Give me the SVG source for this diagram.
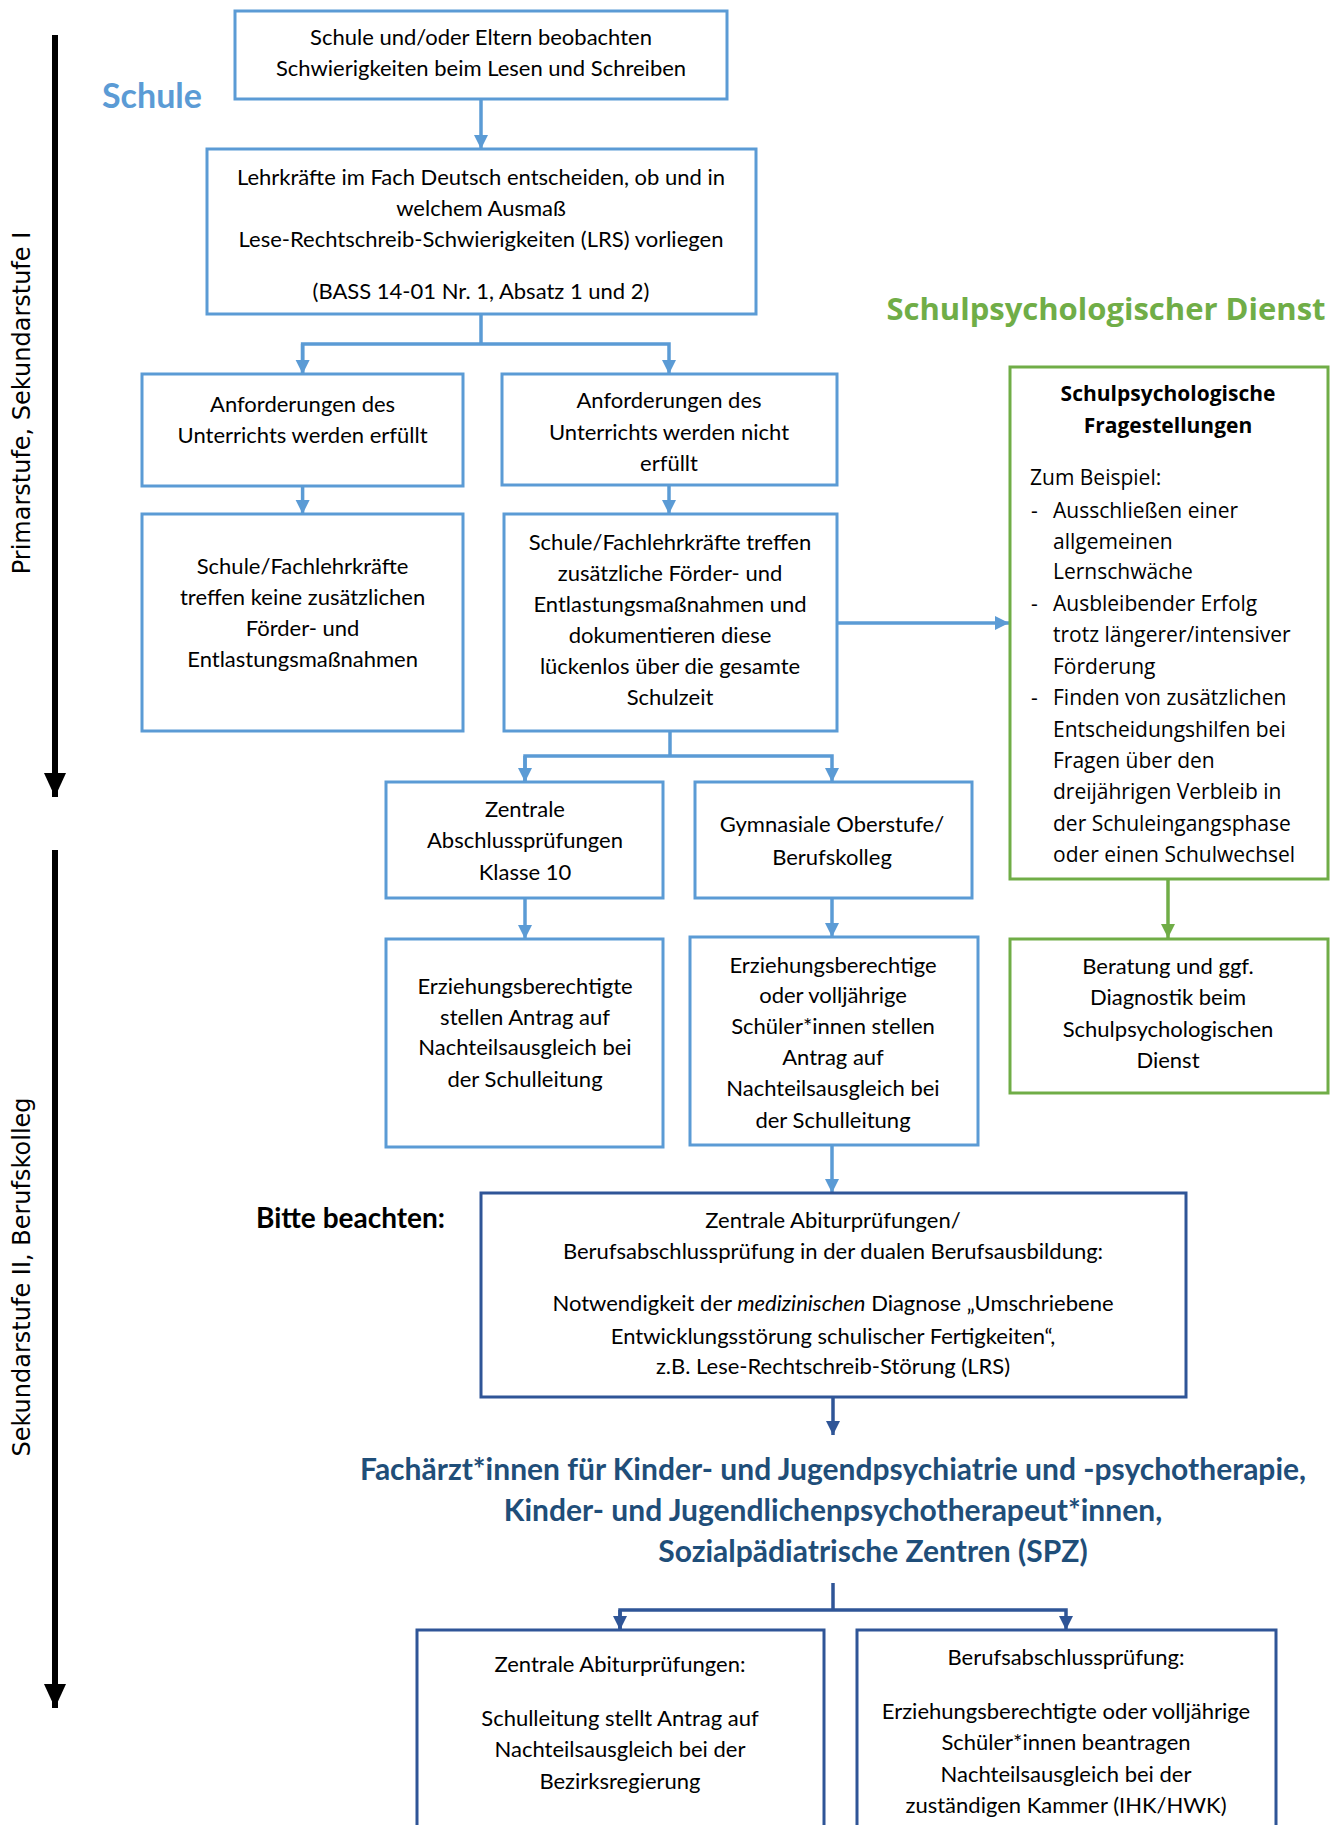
<svg xmlns="http://www.w3.org/2000/svg" width="1343" height="1825" viewBox="0 0 1343 1825">
<style>
.b{fill:#fff;stroke:#5B9BD5;stroke-width:3}
.g{fill:#fff;stroke:#70AD47;stroke-width:3}
.d{fill:#fff;stroke:#2F5597;stroke-width:3}
.t{font-family:Lato,"Liberation Sans",sans-serif;font-size:22px;fill:#000;text-anchor:middle}
.o{font-family:"Open Sans","Noto Sans",sans-serif;font-size:21px;fill:#000}
.cb{fill:none;stroke:#5B9BD5;stroke-width:3.5}
.cg{fill:none;stroke:#70AD47;stroke-width:3.5}
.cd{fill:none;stroke:#2F5597;stroke-width:3.5}
.side{font-family:"DejaVu Sans",Verdana,sans-serif;font-size:24px;fill:#000;text-anchor:middle}
</style>
<defs>
<marker id="ab" markerUnits="userSpaceOnUse" markerWidth="16" markerHeight="16" refX="14" refY="8" orient="auto"><path d="M0,1 L14,8 L0,15 z" fill="#5B9BD5"/></marker>
<marker id="ag" markerUnits="userSpaceOnUse" markerWidth="16" markerHeight="16" refX="14" refY="8" orient="auto"><path d="M0,1 L14,8 L0,15 z" fill="#70AD47"/></marker>
<marker id="ad" markerUnits="userSpaceOnUse" markerWidth="16" markerHeight="16" refX="14" refY="8" orient="auto"><path d="M0,1 L14,8 L0,15 z" fill="#2F5597"/></marker>
<marker id="ak" markerUnits="userSpaceOnUse" markerWidth="26" markerHeight="26" refX="24" refY="13" orient="auto"><path d="M0,2 L24,13 L0,24 z" fill="#000"/></marker>
</defs>
<rect width="1343" height="1825" fill="#fff"/>

<g id="timeline">
<line x1="55" y1="35" x2="55" y2="797" stroke="#000" stroke-width="6" marker-end="url(#ak)"/>
<line x1="55" y1="850" x2="55" y2="1708" stroke="#000" stroke-width="6" marker-end="url(#ak)"/>
<text class="side" transform="translate(30,403) rotate(-90)">Primarstufe, Sekundarstufe I</text>
<text class="side" transform="translate(30,1277) rotate(-90)">Sekundarstufe II, Berufskolleg</text>
</g>

<g id="labels">
<text x="102" y="108" font-family="Lato,sans-serif" font-weight="bold" font-size="34" fill="#5B9BD5">Schule</text>
<text x="1106" y="320" font-family="'Open Sans',sans-serif" font-weight="bold" font-size="31" fill="#70AD47" text-anchor="middle">Schulpsychologischer Dienst</text>
<text x="256" y="1228" font-family="Lato,sans-serif" font-weight="bold" font-size="28" fill="#000">Bitte beachten:</text>
<g font-family="Lato,sans-serif" font-weight="bold" font-size="30" fill="#1F4E79" text-anchor="middle">
<text x="833" y="1480">Fachärzt*innen für Kinder- und Jugendpsychiatrie und -psychotherapie,</text>
<text x="833" y="1521">Kinder- und Jugendlichenpsychotherapeut*innen,</text>
<text x="873" y="1562">Sozialpädiatrische Zentren (SPZ)</text>
</g>
</g>

<g id="connectors">
<line class="cb" x1="481" y1="99" x2="481" y2="149" marker-end="url(#ab)"/>
<polyline class="cb" points="481,314 481,344"/>
<polyline class="cb" points="302.6,374 302.6,344 669,344 669,374" marker-end="url(#ab)"/>
<line class="cb" x1="302.6" y1="344" x2="302.6" y2="374" marker-end="url(#ab)"/>
<line class="cb" x1="302.6" y1="486" x2="302.6" y2="514" marker-end="url(#ab)"/>
<line class="cb" x1="669" y1="485" x2="669" y2="514" marker-end="url(#ab)"/>
<line class="cb" x1="837" y1="623" x2="1009" y2="623" marker-end="url(#ab)"/>
<line class="cg" x1="1168" y1="879" x2="1168" y2="938" marker-end="url(#ag)"/>
<polyline class="cb" points="670,731 670,756"/>
<polyline class="cb" points="525,782 525,756 832,756 832,782" marker-end="url(#ab)"/>
<line class="cb" x1="525" y1="756" x2="525" y2="782" marker-end="url(#ab)"/>
<line class="cb" x1="525" y1="898" x2="525" y2="939" marker-end="url(#ab)"/>
<line class="cb" x1="832" y1="898" x2="832" y2="937" marker-end="url(#ab)"/>
<line class="cb" x1="832" y1="1145" x2="832" y2="1193" marker-end="url(#ab)"/>
<line class="cd" x1="833" y1="1397" x2="833" y2="1435" marker-end="url(#ad)"/>
<polyline class="cd" points="833,1583 833,1610"/>
<polyline class="cd" points="620,1630 620,1610 1066,1610 1066,1630" marker-end="url(#ad)"/>
<line class="cd" x1="620" y1="1610" x2="620" y2="1630" marker-end="url(#ad)"/>
</g>

<g id="n1"><rect class="b" x="235" y="11" width="492" height="88"/>
<text class="t" x="481" y="45">Schule und/oder Eltern beobachten</text>
<text class="t" x="481" y="76">Schwierigkeiten beim Lesen und Schreiben</text></g>

<g id="n2"><rect class="b" x="207" y="149" width="549" height="165"/>
<text class="t" x="481" y="185">Lehrkräfte im Fach Deutsch entscheiden, ob und in</text>
<text class="t" x="481" y="216">welchem Ausmaß</text>
<text class="t" x="481" y="247">Lese-Rechtschreib-Schwierigkeiten (LRS) vorliegen</text>
<text class="t" x="481" y="299">(BASS 14-01 Nr. 1, Absatz 1 und 2)</text></g>

<g id="n3"><rect class="b" x="142" y="374" width="321" height="112"/>
<text class="t" x="302.6" y="412">Anforderungen des</text>
<text class="t" x="302.6" y="443">Unterrichts werden erfüllt</text></g>

<g id="n4"><rect class="b" x="502" y="374" width="335" height="111"/>
<text class="t" x="669" y="408">Anforderungen des</text>
<text class="t" x="669" y="440">Unterrichts werden nicht</text>
<text class="t" x="669" y="471">erfüllt</text></g>

<g id="n5"><rect class="b" x="142" y="514" width="321" height="217"/>
<text class="t" x="302.6" y="574">Schule/Fachlehrkräfte</text>
<text class="t" x="302.6" y="605">treffen keine zusätzlichen</text>
<text class="t" x="302.6" y="636">Förder- und</text>
<text class="t" x="302.6" y="667">Entlastungsmaßnahmen</text></g>

<g id="n6"><rect class="b" x="504" y="514" width="333" height="217"/>
<text class="t" x="670" y="550">Schule/Fachlehrkräfte treffen</text>
<text class="t" x="670" y="581">zusätzliche Förder- und</text>
<text class="t" x="670" y="612">Entlastungsmaßnahmen und</text>
<text class="t" x="670" y="643">dokumentieren diese</text>
<text class="t" x="670" y="674">lückenlos über die gesamte</text>
<text class="t" x="670" y="705">Schulzeit</text></g>

<g id="n7"><rect class="g" x="1010" y="367" width="318" height="512"/>
<text class="o" x="1168" y="401" font-weight="bold" text-anchor="middle">Schulpsychologische</text>
<text class="o" x="1168" y="433" font-weight="bold" text-anchor="middle">Fragestellungen</text>
<text class="o" x="1030" y="485">Zum Beispiel:</text>
<text class="o" x="1031" y="518">-</text>
<text class="o" x="1053" y="518">Ausschließen einer</text>
<text class="o" x="1053" y="549">allgemeinen</text>
<text class="o" x="1053" y="579">Lernschwäche</text>
<text class="o" x="1031" y="611">-</text>
<text class="o" x="1053" y="611">Ausbleibender Erfolg</text>
<text class="o" x="1053" y="642">trotz längerer/intensiver</text>
<text class="o" x="1053" y="674">Förderung</text>
<text class="o" x="1031" y="705">-</text>
<text class="o" x="1053" y="705">Finden von zusätzlichen</text>
<text class="o" x="1053" y="737">Entscheidungshilfen bei</text>
<text class="o" x="1053" y="768">Fragen über den</text>
<text class="o" x="1053" y="799">dreijährigen Verbleib in</text>
<text class="o" x="1053" y="831">der Schuleingangsphase</text>
<text class="o" x="1053" y="862">oder einen Schulwechsel</text></g>

<g id="n8"><rect class="g" x="1010" y="939" width="318" height="154"/>
<text class="t" x="1168" y="974">Beratung und ggf.</text>
<text class="t" x="1168" y="1005">Diagnostik beim</text>
<text class="t" x="1168" y="1037">Schulpsychologischen</text>
<text class="t" x="1168" y="1068">Dienst</text></g>

<g id="n9"><rect class="b" x="386" y="782" width="277" height="116"/>
<text class="t" x="525" y="817">Zentrale</text>
<text class="t" x="525" y="848">Abschlussprüfungen</text>
<text class="t" x="525" y="880">Klasse 10</text></g>

<g id="n10"><rect class="b" x="695" y="782" width="277" height="116"/>
<text class="t" x="832" y="832">Gymnasiale Oberstufe/</text>
<text class="t" x="832" y="865">Berufskolleg</text></g>

<g id="n11"><rect class="b" x="386" y="939" width="277" height="208"/>
<text class="t" x="525" y="994">Erziehungsberechtigte</text>
<text class="t" x="525" y="1025">stellen Antrag auf</text>
<text class="t" x="525" y="1055">Nachteilsausgleich bei</text>
<text class="t" x="525" y="1087">der Schulleitung</text></g>

<g id="n12"><rect class="b" x="690" y="937" width="288" height="208"/>
<text class="t" x="833" y="973">Erziehungsberechtige</text>
<text class="t" x="833" y="1003">oder volljährige</text>
<text class="t" x="833" y="1034">Schüler*innen stellen</text>
<text class="t" x="833" y="1065">Antrag auf</text>
<text class="t" x="833" y="1096">Nachteilsausgleich bei</text>
<text class="t" x="833" y="1128">der Schulleitung</text></g>

<g id="n13"><rect class="d" x="481" y="1193" width="705" height="204"/>
<text class="t" x="833" y="1228">Zentrale Abiturprüfungen/</text>
<text class="t" x="833" y="1259">Berufsabschlussprüfung in der dualen Berufsausbildung:</text>
<text class="t" x="833" y="1311">Notwendigkeit der <tspan font-style="italic">medizinischen</tspan> Diagnose „Umschriebene</text>
<text class="t" x="833" y="1344">Entwicklungsstörung schulischer Fertigkeiten“,</text>
<text class="t" x="833" y="1374">z.B. Lese-Rechtschreib-Störung (LRS)</text></g>

<g id="n14"><rect class="d" x="417" y="1630" width="407" height="220"/>
<text class="t" x="620" y="1672">Zentrale Abiturprüfungen:</text>
<text class="t" x="620" y="1726">Schulleitung stellt Antrag auf</text>
<text class="t" x="620" y="1757">Nachteilsausgleich bei der</text>
<text class="t" x="620" y="1789">Bezirksregierung</text></g>

<g id="n15"><rect class="d" x="857" y="1630" width="419" height="220"/>
<text class="t" x="1066" y="1665">Berufsabschlussprüfung:</text>
<text class="t" x="1066" y="1719">Erziehungsberechtigte oder volljährige</text>
<text class="t" x="1066" y="1750">Schüler*innen beantragen</text>
<text class="t" x="1066" y="1782">Nachteilsausgleich bei der</text>
<text class="t" x="1066" y="1813">zuständigen Kammer (IHK/HWK)</text></g>
</svg>
